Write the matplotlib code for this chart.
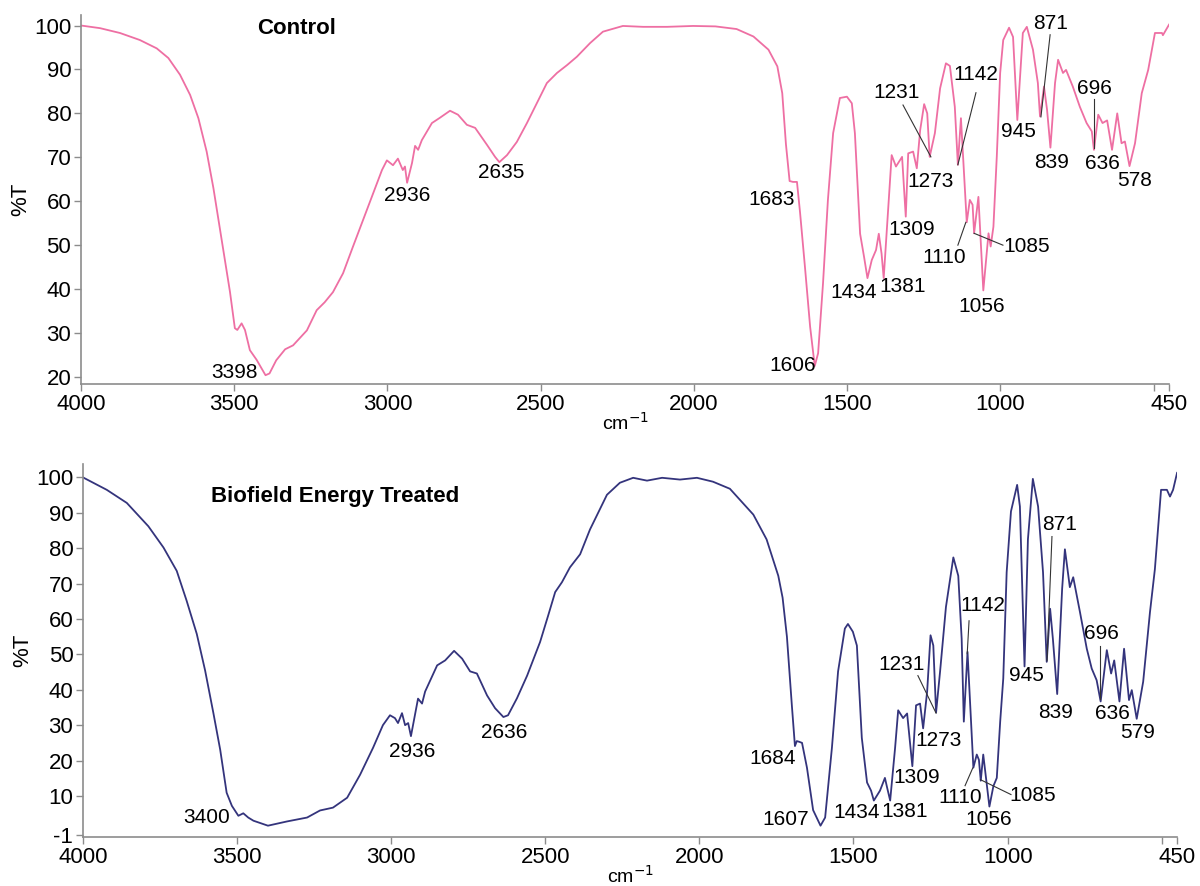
import matplotlib.pyplot as plt

plt.rcParams['font.family'] = ['Liberation Sans', 'DejaVu Sans']
plt.rcParams['axes.unicode_minus'] = False

# Control spectrum (wavenumber cm-1, %T)
ctrl_wn = [4000, 3938, 3873, 3808, 3753, 3715, 3677, 3644, 3617, 3590, 3568, 3547, 3528, 3514,
           3498, 3490, 3476, 3465, 3449, 3427, 3398, 3385, 3363, 3334, 3308, 3263, 3231, 3205,
           3178, 3145, 3113, 3080, 3047, 3018, 3002, 2982, 2966, 2950, 2943, 2936, 2920, 2910,
           2900, 2888, 2855, 2829, 2796, 2770, 2741, 2714, 2675, 2649, 2635, 2610, 2578, 2545,
           2512, 2480, 2447, 2414, 2382, 2339, 2297, 2232, 2166, 2088, 2003, 1930, 1861, 1806,
           1757, 1728, 1712, 1700, 1688, 1677, 1664, 1654, 1638, 1621, 1606, 1595, 1579, 1563,
           1546, 1524, 1501, 1485, 1475, 1458, 1445, 1434, 1420, 1406, 1397, 1388, 1381, 1368,
           1355, 1341, 1321, 1309, 1301, 1285, 1273, 1262, 1249, 1239, 1231, 1214, 1197, 1178,
           1165, 1149, 1139, 1129, 1110, 1100, 1091, 1086, 1072, 1056, 1039, 1032, 1023, 1012,
           1001, 991, 972, 959, 945, 927, 914, 894, 878, 871, 858, 848, 837, 822, 812, 796,
           786, 764, 741, 719, 702, 695, 681, 667, 652, 636, 619, 605, 594, 579, 561, 539,
           518, 496, 473, 470, 454, 450]
ctrl_t = [100.0, 99.4, 98.3, 96.7, 94.8, 92.6, 88.8, 84.2, 78.9, 71.3, 63.0, 53.8, 45.5, 39.4,
          31.1, 30.7, 32.2, 30.7, 26.1, 23.9, 20.4, 20.8, 23.8, 26.3, 27.2, 30.6, 35.2, 37.0,
          39.3, 43.6, 49.6, 55.7, 61.8, 67.1, 69.3, 68.2, 69.7, 67.1, 67.9, 64.2, 68.7, 72.6,
          71.7, 73.9, 77.8, 79.0, 80.6, 79.7, 77.4, 76.7, 72.8, 70.1, 68.9, 70.5, 73.5, 77.8,
          82.4, 86.9, 89.2, 91.0, 92.9, 96.0, 98.6, 99.9, 99.7, 99.7, 99.9, 99.8, 99.2, 97.5,
          94.5, 90.7, 84.6, 73.0, 64.6, 64.4, 64.4, 57.5, 45.1, 31.4, 22.5, 25.4, 41.3, 60.3,
          75.5, 83.5, 83.8, 82.3, 75.5, 52.6, 47.3, 42.5, 46.6, 48.9, 52.6, 48.1, 42.5, 56.5,
          70.5, 67.9, 70.1, 56.5, 70.9, 71.3, 67.5, 76.2, 82.1, 80.0, 70.1, 75.5, 85.7, 91.4,
          90.8, 81.5, 68.3, 78.9, 55.2, 60.3, 59.2, 52.7, 61.0, 39.7, 52.7, 49.7, 54.2, 70.2,
          89.2, 96.7, 99.5, 97.4, 78.5, 98.3, 99.7, 94.5, 86.9, 79.3, 86.1, 80.8, 72.2, 86.9,
          92.2, 89.2, 89.9, 86.1, 81.5, 77.8, 75.9, 71.7, 79.7, 77.8, 78.4, 71.7, 80.0, 73.2,
          73.6, 68.0, 73.2, 84.6, 89.9, 98.3, 98.3, 97.8, 99.7, 100.2]

# Biofield energy treated spectrum
trt_wn = [4000, 3923, 3858, 3788, 3739, 3696, 3664, 3631, 3604, 3577, 3555, 3534, 3517, 3496,
          3480, 3464, 3447, 3400, 3338, 3273, 3231, 3189, 3143, 3101, 3059, 3027, 3004, 2988,
          2978, 2965, 2955, 2945, 2936, 2923, 2913, 2900, 2890, 2851, 2825, 2796, 2770, 2744,
          2722, 2689, 2663, 2636, 2621, 2592, 2559, 2517, 2491, 2468, 2446, 2420, 2387, 2355,
          2300, 2258, 2215, 2170, 2121, 2063, 2008, 1956, 1901, 1825, 1782, 1744, 1730, 1716,
          1700, 1690, 1684, 1676, 1667, 1651, 1631, 1607, 1592, 1570, 1550, 1528, 1518, 1502,
          1489, 1473, 1456, 1443, 1434, 1414, 1398, 1391, 1381, 1365, 1355, 1339, 1326, 1309,
          1297, 1284, 1274, 1261, 1250, 1241, 1232, 1219, 1200, 1176, 1160, 1149, 1142, 1130,
          1111, 1100, 1093, 1087, 1079, 1059, 1046, 1035, 1024, 1014, 1003, 989, 969, 960,
          945, 934, 918, 901, 885, 873, 862, 853, 839, 823, 814, 798, 787, 765, 743, 727,
          711, 698, 678, 664, 654, 637, 622, 606, 597, 581, 560, 538, 522, 502, 483, 473,
          463, 450]
trt_t = [100.0, 96.5, 92.8, 86.2, 80.2, 73.6, 65.2, 55.8, 45.5, 33.4, 23.1, 10.9, 7.2, 4.4,
         5.1, 3.9, 3.0, 1.6, 2.8, 3.9, 5.9, 6.7, 9.5, 16.0, 23.6, 30.0, 32.8, 32.0,
         30.6, 33.4, 30.0, 30.6, 26.9, 32.8, 37.5, 36.1, 39.5, 46.9, 48.3, 51.0, 48.8, 45.2,
         44.6, 38.4, 34.8, 32.3, 32.8, 37.6, 44.0, 53.5, 60.9, 67.6, 70.4, 74.6, 78.3, 85.3,
         95.1, 98.5, 99.9, 99.1, 99.9, 99.4, 99.9, 98.8, 96.8, 89.5, 82.5, 72.2, 66.0, 55.0,
         35.6, 24.1, 25.5, 25.3, 25.0, 18.0, 6.0, 1.6, 3.9, 23.6, 45.2, 57.3, 58.6, 56.4,
         52.5, 26.4, 13.8, 11.5, 8.7, 11.5, 15.1, 12.4, 8.7, 23.6, 34.2, 32.0, 33.3, 18.4,
         35.6, 36.1, 29.1, 39.5, 55.4, 52.5, 33.6, 45.2, 63.4, 77.4, 72.2, 54.4, 31.0, 50.7,
         18.0, 21.7, 20.2, 14.3, 21.7, 7.0, 12.8, 15.1, 31.0, 43.2, 73.2, 90.4, 97.9, 91.8,
         46.6, 82.5, 99.6, 91.8, 73.2, 47.9, 62.9, 54.4, 38.8, 68.5, 79.7, 69.0, 71.8, 61.9,
         51.6, 46.0, 42.7, 36.7, 51.2, 44.6, 48.3, 36.7, 51.6, 37.1, 39.9, 31.8, 42.3, 61.9,
         74.1, 96.5, 96.5, 94.6, 96.5, 101.3]

# peak labels: (text, text x, text y, leader line or None)
ctrl_labels = [
    ("3398", 3498, 21.1, None), ("2936", 2936, 61.2, None), ("2635", 2630, 66.5, None),
    ("1683", 1746, 60.5, None), ("1606", 1677, 22.5, None), ("1434", 1478, 39.3, None),
    ("1381", 1318, 40.5, None), ("1309", 1289, 53.6, None), ("1273", 1227, 64.4, None),
    ("1231", 1338, 84.7, ((1318, 81.9), (1227, 70.1))),
    ("1142", 1080, 88.8, ((1080, 84.7), (1139, 68.3))),
    ("1110", 1184, 47.3, ((1139, 50.0), (1113, 55.2))),
    ("1085", 914, 49.6, ((992, 50.0), (1086, 52.7))),
    ("1056", 1060, 36.1, None), ("945", 943, 75.8, None),
    ("871", 835, 100.4, ((838, 97.9), (868, 79.2))),
    ("839", 832, 68.9, None),
    ("696", 692, 85.6, ((695, 83.3), (695, 72.1))),
    ("636", 666, 68.7, None), ("578", 564, 64.8, None),
]
trt_labels = [
    ("3400", 3598, 3.9, None), ("2936", 2933, 22.7, None), ("2636", 2634, 28.0, None),
    ("1684", 1764, 20.5, None), ("1607", 1719, 3.4, None), ("1434", 1489, 5.3, None),
    ("1381", 1333, 5.6, None), ("1309", 1294, 15.1, None), ("1273", 1223, 25.8, None),
    ("1231", 1343, 47.1, ((1291, 44.0), (1232, 33.4))),
    ("1142", 1080, 63.9, ((1125, 59.5), (1131, 50.2))),
    ("1110", 1154, 9.5, ((1138, 12.9), (1113, 17.9))),
    ("1085", 918, 10.1, ((989, 10.4), (1088, 14.6))),
    ("1056", 1060, 3.4, None), ("945", 940, 44.1, None),
    ("871", 830, 86.7, ((856, 83.3), (872, 48.2))),
    ("839", 843, 33.6, None),
    ("696", 694, 55.8, ((700, 52.5), (700, 37.5))),
    ("636", 661, 33.4, None), ("579", 577, 27.8, None),
]

xticks = [4000, 3500, 3000, 2500, 2000, 1500, 1000, 500, 450]
xticklabels = ['4000', '3500', '3000', '2500', '2000', '1500', '1000', '', '450']

fig = plt.figure(figsize=(12, 8.86), dpi=100)
ax1 = fig.add_axes([0.0675, 0.5666, 0.9067, 0.4165])
ax2 = fig.add_axes([0.0692, 0.0553, 0.9117, 0.421])

panels = [
    (ax1, ctrl_wn, ctrl_t, '#EE6FA3', ctrl_labels, 'Control', (0.1985, 0.962),
     (18.4, 102.4), [20, 30, 40, 50, 60, 70, 80, 90, 100]),
    (ax2, trt_wn, trt_t, '#34347C', trt_labels, 'Biofield Energy Treated', (0.23, 0.912),
     (-1.6, 103.8), [-1, 10, 20, 30, 40, 50, 60, 70, 80, 90, 100]),
]

for ax, wn, t, color, labels, title, tpos, ylim, yticks in panels:
    ax.plot(wn, t, color=color, lw=1.3)
    ax.set_xlim(4000, 450)
    ax.set_ylim(*ylim)
    ax.set_xticks(xticks)
    ax.set_xticklabels(xticklabels)
    ax.set_yticks(yticks)
    for s in ['top', 'right']:
        ax.spines[s].set_visible(False)
    for s in ['left', 'bottom']:
        ax.spines[s].set_color('#8c8c8c')
        ax.spines[s].set_linewidth(1.2)
    ax.tick_params(direction='out', length=5, width=1, color='#8c8c8c',
                   labelsize=16, pad=2)
    ax.set_ylabel('%T', fontsize=16, labelpad=2)
    ax.set_xlabel('cm$^{-1}$', fontsize=14, labelpad=-2)
    ax.text(tpos[0], tpos[1], title, transform=ax.transAxes, fontsize=16,
            fontweight='bold', ha='center', va='center')
    for txt, x, y, leader in labels:
        ax.text(x, y, txt, fontsize=15, ha='center', va='center')
        if leader is not None:
            (x0, y0), (x1, y1) = leader
            ax.plot([x0, x1], [y0, y1], color='#333333', lw=0.8)

fig.savefig('out.png', dpi=100)
